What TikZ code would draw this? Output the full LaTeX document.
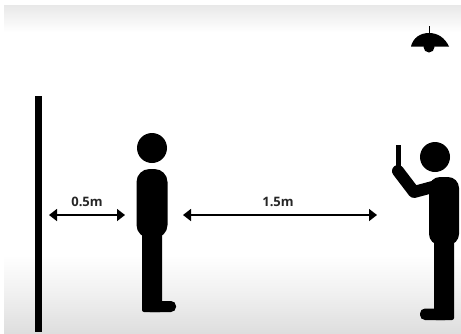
\documentclass[tikz,border=0pt]{standalone}
\usepackage{fontspec}
\setmainfont{Open Sans}
\usetikzlibrary{arrows.meta}
\tikzset{
  ink/.style={fill=black,draw=none},
  dimline/.style={draw=black,line width=1.5pt,{Triangle[length=8pt,width=12pt]}-{Triangle[length=8pt,width=12pt]},shorten >=0pt,shorten <=0pt},
  dimlabel/.style={font=\fontsize{13}{15}\selectfont\bfseries,text=black!85,inner sep=0pt}
}
\begin{document}
\begin{tikzpicture}[x=1pt,y=-1pt]
\useasboundingbox (0,0) rectangle (461,333);
\fill[white] (0,0) rectangle (461,333);
% background bands
\shade[top color=black!9,bottom color=white] (4,5) rectangle (461,32);
\shade[top color=white,bottom color=black!6] (4,255) rectangle (461,295);
\shade[top color=black!6,bottom color=black!13] (4,295) rectangle (461,333);
% wall
\fill[ink] (35,96) rectangle (41.5,332);
% left person
\fill[ink] (152,148) circle (15);
\fill[ink,rounded corners=13pt] (136.5,169) rectangle (167.5,238);
\fill[ink,rounded corners=2pt] (142,225) rectangle (162,312);
\fill[ink,rounded corners=5pt] (145,301) rectangle (176,312);
% right person
\fill[ink] (435,157) circle (15);
\fill[ink,rounded corners=11pt] (429,177) rectangle (459,245);
\fill[ink,rounded corners=2pt] (434,235) rectangle (454,320);
\fill[ink,rounded corners=5pt] (420,308.5) rectangle (450,320);
\draw[black,line width=12pt,line cap=round,line join=round] (398,171) -- (414,192) -- (440,185);
\fill[ink] (396,145) rectangle (400.5,168);
% lamp
\fill[ink] (428.5,26) rectangle (430,34);
\fill[ink] (411,46.5) .. controls (413,38) and (420,33) .. (429,33) .. controls (438,33) and (445,38) .. (449,46.5) -- cycle;
\fill[ink] (429,47) circle (5.5);
% dimensions
\coordinate (a1) at (49,215);
\coordinate (a2) at (125,215);
\coordinate (b1) at (183,215);
\coordinate (b2) at (377,215);
\draw[dimline] (a1) -- (a2);
\draw[dimline] (b1) -- (b2);
\node[dimlabel] (la) at (87,202) {0.5m};
\node[dimlabel] (lb) at (278,202) {1.5m};
\end{tikzpicture}
\end{document}
